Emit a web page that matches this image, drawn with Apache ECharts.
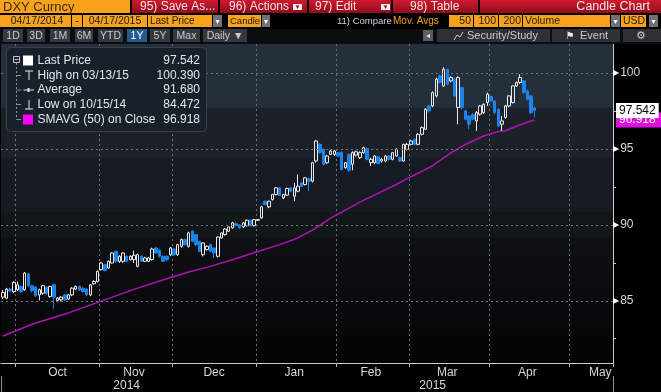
<!DOCTYPE html>
<html><head><meta charset="utf-8">
<script src="https://cdn.jsdelivr.net/npm/echarts@6/dist/echarts.min.js"></script>
<style>html,body{margin:0;padding:0;background:#000;}#c{width:661px;height:392px;}</style>
</head><body><div id="c"></div><script>
// ---------------- data ----------------
const startDate = '2014-09-25';
const endDate = '2015-05-18';
const opens = [85.24,85.17,85.77,85.61,85.72,85.94,85.72,86.76,85.99,85.90,85.39,85.50,85.90,85.28,86.05,85.02,85.06,85.39,85.11,85.39,85.77,85.94,85.83,85.77,85.39,86.12,86.27,87.05,87.38,87.16,87.49,88.26,87.60,87.60,87.93,87.71,87.71,87.27,87.93,87.60,87.60,87.71,88.48,88.32,87.93,87.93,88.04,88.41,88.04,88.59,89.03,88.59,89.58,89.36,88.92,88.04,88.37,88.70,88.48,87.93,89.14,89.36,89.58,89.80,90.08,90.00,89.87,89.95,90.31,89.95,90.30,90.46,91.56,91.19,91.67,92.00,92.44,91.78,91.96,92.44,91.89,92.22,92.77,92.66,93.04,92.88,94.21,95.31,94.98,94.10,94.65,94.65,94.76,94.76,93.77,94.65,94.00,94.60,94.43,94.76,95.02,94.10,94.10,94.49,94.21,94.21,94.54,94.32,94.54,94.43,94.21,94.98,95.31,95.64,95.31,95.97,96.30,97.84,97.84,98.50,99.82,99.16,100.26,99.49,99.60,97.73,99.05,97.51,97.18,97.29,96.85,97.29,97.40,98.06,98.46,98.17,97.62,96.63,97.07,97.84,98.06,99.16,99.38,99.49,98.83,98.50,97.70];
const closes = [85.55,85.77,85.65,86.21,86.05,85.61,86.82,85.99,85.66,85.33,85.72,85.99,85.50,85.94,85.24,85.17,85.24,85.06,85.39,85.83,85.94,85.72,85.61,85.39,86.05,86.27,86.94,87.49,87.00,87.60,88.15,87.60,87.93,88.15,87.60,87.93,88.00,88.04,87.60,87.82,87.82,88.41,88.15,87.93,87.60,87.71,88.48,88.04,88.70,89.03,88.70,89.47,88.92,88.70,88.26,88.81,88.59,88.26,88.15,89.20,89.47,89.73,89.87,90.13,89.97,89.80,90.13,90.31,89.95,90.35,90.35,91.19,91.34,91.56,92.00,92.44,91.94,92.00,92.40,92.22,92.44,92.55,92.55,93.10,92.88,94.10,95.53,94.76,93.99,94.54,94.87,94.87,94.54,93.66,94.10,93.60,94.76,94.82,94.76,95.09,94.32,94.32,94.54,94.05,94.32,94.54,94.32,94.76,94.98,94.21,95.31,95.31,95.53,95.31,95.97,96.41,97.62,97.51,98.72,99.60,99.38,100.26,99.27,99.71,98.50,99.71,97.73,96.96,96.63,96.96,97.40,97.84,97.95,98.61,98.17,97.40,96.52,96.85,97.84,98.50,99.16,99.38,99.71,98.72,98.28,97.40,97.542];
const lows = [85.11,85.10,85.55,85.50,85.65,85.50,85.65,85.90,85.55,85.25,85.02,85.40,85.40,85.20,84.472,84.90,84.95,85.00,85.05,85.30,85.70,85.65,85.55,85.30,85.30,86.05,86.20,87.00,86.95,87.10,87.45,87.50,87.50,87.50,87.55,87.65,87.49,87.20,87.55,87.55,87.55,87.65,88.10,87.85,87.55,87.60,87.95,87.95,87.95,88.50,88.65,88.50,88.85,88.60,88.20,87.93,88.30,88.20,87.82,87.85,89.10,89.30,89.55,89.75,89.90,89.75,89.80,89.90,89.90,89.90,90.28,90.40,91.30,91.10,91.60,91.95,91.90,91.70,91.90,92.15,91.56,92.15,92.50,92.60,92.22,92.80,94.10,94.70,93.90,94.00,94.60,94.55,94.50,93.60,93.70,93.50,93.60,94.50,94.35,94.70,94.25,93.88,94.00,94.00,94.10,94.15,94.25,94.25,94.50,94.15,94.15,94.90,95.25,95.25,95.25,95.90,96.25,97.40,97.75,98.40,99.30,99.10,99.20,99.40,98.40,96.63,97.60,96.90,96.30,96.90,96.19,97.20,97.30,97.84,98.10,97.30,96.45,96.19,97.00,97.75,98.00,99.10,99.30,98.65,98.20,97.30,97.10];
const highs = [85.72,85.85,85.85,86.30,86.27,86.00,86.90,86.85,86.05,85.95,85.80,86.05,85.95,86.00,86.10,85.25,85.30,85.45,85.45,85.90,86.00,86.00,85.90,85.80,86.10,86.35,87.00,87.55,87.45,87.65,88.20,88.30,88.00,88.20,88.00,88.00,88.30,88.10,88.00,87.90,87.90,88.50,88.55,88.40,88.00,88.00,88.55,88.45,88.75,89.10,89.10,89.55,89.65,89.40,88.95,88.85,88.65,88.75,88.50,89.25,89.50,89.80,89.90,90.20,90.15,90.05,90.20,90.35,90.35,90.40,90.37,91.25,91.60,91.60,92.05,92.50,92.50,92.05,92.45,92.50,92.77,93.33,92.80,93.15,93.10,94.15,95.60,95.40,95.05,94.60,94.95,94.95,94.80,94.85,94.15,94.70,94.85,94.90,94.85,95.15,95.10,94.43,94.60,94.55,94.40,94.60,94.60,94.80,95.05,94.50,95.35,95.40,95.60,95.70,96.05,96.50,97.70,97.90,98.80,99.70,99.90,100.39,100.30,99.80,99.70,99.80,99.10,97.60,97.25,97.35,97.51,97.90,98.00,98.72,98.50,98.20,97.70,97.18,97.90,98.55,99.20,99.45,99.93,99.55,98.90,98.55,97.78];
const smaDates = ['2014-09-25','2014-10-07','2014-10-21','2014-11-03','2014-11-14','2014-11-27','2014-12-05','2014-12-12','2014-12-23','2015-01-01','2015-01-09','2015-01-16','2015-01-22','2015-01-29','2015-02-05','2015-02-10','2015-02-13','2015-02-24','2015-02-27','2015-03-06','2015-03-10','2015-03-17','2015-03-23','2015-03-30','2015-04-03','2015-04-07','2015-04-10','2015-04-16','2015-04-17'];
const smaValues = [82.68,83.45,84.20,84.98,85.75,86.45,86.90,87.20,87.70,88.25,88.70,89.14,89.65,90.45,91.10,91.50,91.85,92.66,93.05,93.65,93.90,94.75,95.30,95.86,96.15,96.20,96.50,96.85,96.918];
const monthLabels = ['Oct','Nov','Dec','Jan','Feb','Mar','Apr','May'];
const monthNames = ['Jan','Feb','Mar','Apr','May','Jun','Jul','Aug','Sep','Oct','Nov','Dec'];
const yearLabels = ['2014','2015'];
const yTickLabels = [85, 90, 95, 100];
const yMinorTicks = [82.5, 87.5, 92.5, 97.5];
const yGridValues = [85, 90, 95, 100];
const lastPrice = 97.542;
const smaLast = 96.918;
const legendRows = [['Last Price','97.542'],['High on 03/13/15','100.390'],['Average','91.680'],['Low on 10/15/14','84.472'],['SMAVG (50) on Close','96.918']];

// ---------------- derived axis domain (weekday calendar) ----------------
function weekdays(a, b) {
  const out = []; let d = new Date(a + 'T00:00:00Z'); const e = new Date(b + 'T00:00:00Z');
  while (d <= e) { const w = d.getUTCDay(); if (w !== 0 && w !== 6) out.push(d.toISOString().slice(0,10)); d = new Date(d.getTime() + 86400000); }
  return out;
}
const categories = weekdays(startDate, endDate);
const monthOf = s => +s.slice(5,7) - 1;
const yearOf = s => s.slice(0,4);
const monthGroups = [];
categories.forEach((c,i) => {
  const m = monthOf(c);
  if (!monthGroups.length || monthGroups[monthGroups.length-1].m !== m) monthGroups.push({m, y:+yearOf(c), first:i, last:i});
  else monthGroups[monthGroups.length-1].last = i;
});
const monthStart = new Set(monthGroups.slice(1).map(g => g.first));
const lastIdx = categories.length - 1;
function weekdaysInMonth(y, m) { let n=0; const d = new Date(Date.UTC(y,m,1)); while (d.getUTCMonth()===m){const w=d.getUTCDay(); if(w!==0&&w!==6)n++; d.setUTCDate(d.getUTCDate()+1);} return n; }
const monthLabelIdx = new Map();
monthGroups.forEach(g => {
  const name = monthNames[g.m];
  if (monthLabels.indexOf(name) < 0) return;
  const idx = Math.min(g.first + Math.floor((weekdaysInMonth(g.y, g.m) - 1) / 2), lastIdx - 3);
  monthLabelIdx.set(idx, name);
});
const yearLabelIdx = new Map(); const yearSep = new Set();
yearLabels.forEach(yl => {
  const idxs = categories.map((c,i)=>yearOf(c)===yl?i:-1).filter(i=>i>=0);
  if (!idxs.length) return;
  yearLabelIdx.set(Math.floor((idxs[0]+idxs[idxs.length-1])/2), yl);
  if (idxs[0] > 0) yearSep.add(idxs[0]);
});

const candleData = categories.map((c,i) => i < opens.length ? [opens[i], closes[i], lows[i], highs[i]] : '-');
const smaData = smaDates.map((d,i) => [d, smaValues[i]]);

// ---------------- chrome (header / legend box) ----------------
const FONT = 'Liberation Sans, Arial, sans-serif';
const G = [];
function R(x,y,w,h,fill,extra){ G.push(Object.assign({type:'rect', shape:{x,y,width:w,height:h}, style:{fill}, z:100, silent:true}, extra||{})); }
function T(x,y,s,fill,size,align,fam){ G.push({type:'text', x, y, z:101, silent:true, style:{text:s, fill, font: (size||12)+'px '+(fam||FONT), textAlign:align||'left', align:align||'left', textVerticalAlign:'middle', verticalAlign:'middle'}}); }
function L(x1,y1,x2,y2,stroke,w,dash){ G.push({type:'line', z:101, silent:true, shape:{x1,y1,x2,y2}, style:{stroke, lineWidth:w||1, lineDash:dash||null}}); }
function drop(x,y,w,h){ R(x,y,w,h,'#6f7174'); T(x+w/2,y+h/2+0.5,'▾','#fff',8,'center','DejaVu Sans'); }

const ORANGE = '#f7a21b', REDG = new echarts.graphic.LinearGradient(0,0,0,1,[{offset:0,color:'#d0192f'},{offset:1,color:'#8f0d1a'}]);
// row 1
R(0,0,661,14,'#000');
R(0,0,130,13,ORANGE); T(3,7,'DXY Curncy','#3a2a10',13,'left');
R(132,0,86,13,REDG); T(140,7,'95) Save As...','#fbe3e5',12,'left');
R(220,0,87,13,REDG); T(229,7,'96) Actions','#fbe3e5',12,'left'); R(293,4,9,6,'#eee'); T(297.5,7,'▾','#8f0d1a',7,'center','DejaVu Sans');
R(309,0,82,13,REDG); T(315,7,'97) Edit','#fbe3e5',12,'left'); R(381,4,9,6,'#eee'); T(385.5,7,'▾','#8f0d1a',7,'center','DejaVu Sans');
R(393,0,85,13,REDG); T(410,7,'98) Table','#fbe3e5',12,'left');
R(480,0,181,13,REDG); T(650,7,'Candle Chart','#fbe3e5',12.5,'right');
// row 2
R(0,14,661,15,'#000');
R(0,15,71,12,ORANGE); T(37,21,'04/17/2014','#1b1b1b',10.5,'center');
R(72,15,10,12,ORANGE); T(77,21,'-','#1b1b1b',10.5,'center');
R(83,15,64,12,ORANGE); T(115,21,'04/17/2015','#1b1b1b',10.5,'center');
R(148,15,64,12,ORANGE); T(150,21,'Last Price','#1b1b1b',10,'left');
drop(213,15,9,12);
R(228,15,33,12,ORANGE); T(230,21,'Candle','#1b1b1b',9.5,'left');
drop(262,15,8,12);
T(337,21,'11) Compare','#c9d3e6',9.5,'left');
T(393,21,'Mov. Avgs',ORANGE,10,'left');
R(449,15,24,12,ORANGE); T(471,21,'50','#1b1b1b',10.5,'right');
R(474,15,24,12,ORANGE); T(496,21,'100','#1b1b1b',10.5,'right');
R(499,15,23,12,ORANGE); T(521,21,'200','#1b1b1b',10.5,'right');
R(523,15,87,12,ORANGE); T(525,21,'Volume','#1b1b1b',10.5,'left');
drop(611,15,9,12);
R(621,15,25,12,ORANGE); T(623,21,'USD','#1b1b1b',10.5,'left');
drop(649,15,9,12);
// row 3
R(0,29,661,15,'#0c0d0f');
const btns = [['1D',3,20],['3D',27,18],['1M',50,20],['6M',75,18],['YTD',98,25],['1Y',127,20],['5Y',150,20],['Max',173,27],['Daily ▼',203,44]];
btns.forEach(b => { R(b[1],29,b[2],13, b[0]==='1Y' ? '#245a8d' : '#35393e'); T(b[1]+b[2]/2,36,b[0], b[0]==='1Y' ? '#ffffff' : '#c6cbd0',10.5,'center'); });
R(423,30,10,11,'#5a5e63'); T(428,36,'◂','#ddd',8,'center','DejaVu Sans');
R(437,29,113,13,'#2d3136'); T(467,36,'Security/Study','#c6cbd0',11,'left');
G.push({type:'polyline', z:101, silent:true, shape:{points:[[454,40],[457,35],[460,37],[463,32]]}, style:{stroke:'#c6cbd0', fill:null, lineWidth:1}});
R(552,29,68,13,'#2d3136'); T(580,36,'Event','#c6cbd0',11,'left'); T(570,36,'⚑','#e6e6e6',10,'center','DejaVu Sans');
R(623,29,38,13,'#2d3136'); T(641,36,'⚙','#c6cbd0',11,'center','DejaVu Sans');
// legend box
G.push({type:'rect', z:100, silent:true, shape:{x:6.5,y:47.5,width:200,height:84,r:4}, style:{fill:'#18202a', stroke:'#3b4148', lineWidth:1}});
const rowY = [61, 75.5, 90, 104.5, 119.5];
legendRows.forEach((r,i) => { T(37.5,rowY[i],r[0],'#e4e6e8',12,'left'); T(200,rowY[i],r[1],'#e4e6e8',12,'right'); });
G.push({type:'rect', z:101, silent:true, shape:{x:13.5,y:56.5,width:6,height:6}, style:{fill:'#18202a', stroke:'#bfc3c7', lineWidth:1}});
L(14.5,59.5,18.5,59.5,'#bfc3c7',1);
L(16.5,63,16.5,119.5,'#8a8f94',1,[2,2]);
[75.5,90,104.5].forEach(y => L(16.5,y,21,y,'#8a8f94',1));
L(16.5,119.5,21,119.5,'#8a8f94',1);
R(23,55.5,10,10,'#ffffff',{z:101});
L(25,71,33,71,'#e4e6e8',1); L(29,71,29,80,'#e4e6e8',1);
L(23.5,90,34,90,'#e4e6e8',1); L(28.5,88,28.5,92,'#e4e6e8',2);
L(29,100,29,109,'#e4e6e8',1); L(25,109,33,109,'#e4e6e8',1);
R(23,114.5,10,10,'#ff00ff',{z:101});

// ---------------- chart ----------------
const bg = new echarts.graphic.LinearGradient(0,0,0,1,[
  {offset:0,color:'#23303b'},{offset:0.198,color:'#23303b'},
  {offset:0.202,color:'#1b2029'},{offset:0.355,color:'#1b2029'},
  {offset:0.359,color:'#161a23'},{offset:0.525,color:'#161a23'},
  {offset:0.529,color:'#111716'},{offset:0.603,color:'#111716'},
  {offset:0.607,color:'#0f1016'},{offset:0.78,color:'#0b0b0e'},
  {offset:1,color:'#030303'}]);
const GRIDC = '#6c7278';
const NOLINE = {color:'rgba(0,0,0,0)', width:0};
const chart = echarts.init(document.getElementById('c'), null, {renderer:'canvas'});
chart.setOption({
  backgroundColor:'#000',
  animation:false,
  grid:{left:1, right:48, top:44, bottom:29, show:true, backgroundColor:bg, borderWidth:0, containLabel:false, outerBoundsMode:'none'},
  xAxis:[{
    type:'category', data:categories, boundaryGap:true, gridIndex:0, position:'bottom',
    axisLine:{show:true, lineStyle:{color:'#c9ccd0', width:1}},
    axisTick:{show:true, length:4, interval:(i)=>monthStart.has(i), lineStyle:{color:'#b8bcc0'}},
    splitLine:{show:true, interval:(i)=>monthStart.has(i), lineStyle:{color:GRIDC, type:[2,3], width:1}},
    axisLabel:{show:true, interval:(i)=>monthLabelIdx.has(i), formatter:(v,i)=>monthLabelIdx.get(i)||'', color:'#d3d8dd', fontSize:12, fontFamily:FONT, margin:4}
  },{
    type:'category', data:categories, boundaryGap:true, gridIndex:0, position:'bottom', offset:13,
    axisLine:{show:false},
    axisTick:{show:true, length:17, interval:(i)=>yearSep.has(i), lineStyle:{color:'#8c9095'}},
    splitLine:{show:false},
    axisLabel:{show:true, interval:(i)=>yearLabelIdx.has(i), formatter:(v,i)=>yearLabelIdx.get(i)||'', color:'#d3d8dd', fontSize:12, fontFamily:FONT, margin:4}
  }],
  yAxis:{
    type:'value', position:'right', min:80.9, max:101.92, scale:true,
    axisLine:{show:true, lineStyle:{color:'#c9ccd0', width:1}},
    axisTick:{show:true, customValues:yMinorTicks, length:3, inside:false, lineStyle:{color:'#c9ccd0'}},
    splitLine:{show:false},
    axisLabel:{show:true, customValues:yTickLabels, margin:0, formatter:v=>'{t|▶}{n|'+v+'}',
      rich:{t:{fontSize:8, color:'#ffffff', fontFamily:'DejaVu Sans', padding:[0,1,0,0]}, n:{fontSize:12, color:'#d3d8dd', fontFamily:FONT}}}
  },
  series:[{
    type:'line', name:'SMAVG (50) on Close', data:smaData, xAxisIndex:0, z:2, clip:false,
    symbol:'none', smooth:false, lineStyle:{color:'#b012b8', width:1.5}, itemStyle:{color:'#b012b8'},
    markLine:{silent:true, symbol:'none', animation:false,
      data: yGridValues.map(v=>({yAxis:v, lineStyle:{color:GRIDC, type:[2,3], width:1}, label:{show:false}}))
        .concat([{yAxis:smaLast, lineStyle:NOLINE, label:{show:true, position:'end', distance:3, formatter:String(smaLast), color:'#ffffff', backgroundColor:'#e010e0', padding:[2,6,1,3], fontSize:12, fontFamily:FONT}}])}
  },{
    type:'candlestick', name:'DXY', data:candleData, xAxisIndex:0, z:3, barWidth:3, clip:false,
    itemStyle:{color:'rgba(0,0,0,0)', color0:'#1b84ec', borderColor:'#e6e8ea', borderColor0:'#1b84ec', borderWidth:1},
    markLine:{silent:true, symbol:'none', animation:false,
      data:[{yAxis:lastPrice, lineStyle:NOLINE, label:{show:true, position:'end', distance:3, formatter:String(lastPrice), color:'#000000', backgroundColor:'#ffffff', padding:[2,3,1,3], fontSize:12, fontFamily:FONT}}]}
  }],
  graphic:{elements:G}
});
</script></body></html>
